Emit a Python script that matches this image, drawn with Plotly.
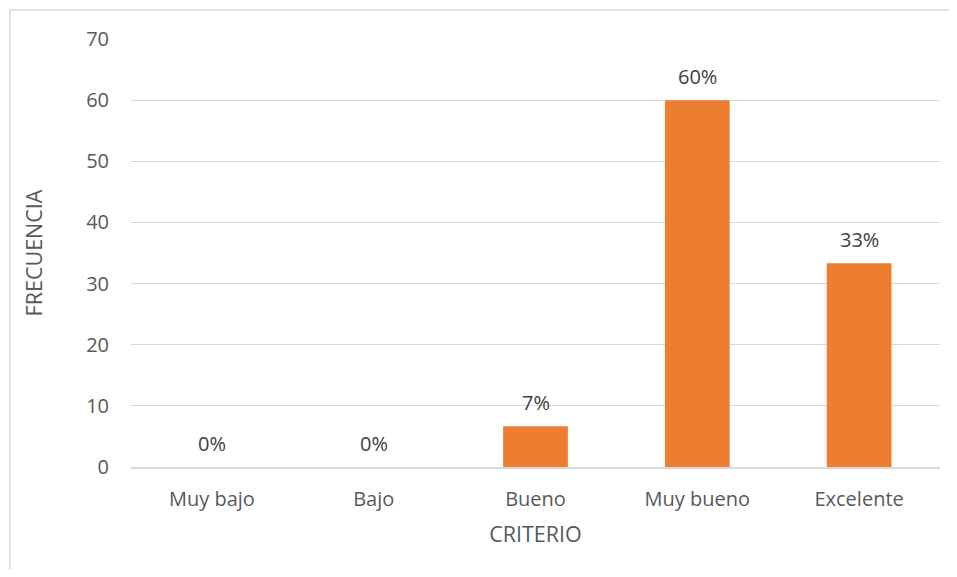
import plotly.graph_objects as go

categories = ["Muy bajo", "Bajo", "Bueno", "Muy bueno", "Excelente"]
values = [0, 0, 6.67, 60, 33.33]
labels = ["0%", "0%", "7%", "60%", "33%"]
y_ticks = [0, 10, 20, 30, 40, 50, 60, 70]

FONT = "Open Sans"
GREY = "#595959"
FS = 20

fig = go.Figure()
fig.add_trace(go.Bar(x=categories, y=values, marker=dict(color="#ED7D31", line=dict(width=0)),
                     width=0.4, hoverinfo="x+y"))

for c, v, t in zip(categories, values, labels):
    fig.add_annotation(x=c, y=v, text=t, showarrow=False, yanchor="bottom", yshift=8,
                       font=dict(family=FONT, size=FS, color="#404040"))

fig.add_shape(type="rect", xref="paper", yref="paper", x0=-0.1496, y0=-0.6, x1=1.2, y1=1.0678,
              line=dict(color="#d9d9d9", width=1.5), fillcolor="rgba(0,0,0,0)", layer="below")

fig.update_layout(
    width=941, height=561,
    margin=dict(l=123, r=9, t=31, b=102),
    plot_bgcolor="white", paper_bgcolor="white",
    showlegend=False,
    font=dict(family=FONT, color=GREY, size=FS),
    xaxis=dict(title=dict(text="CRITERIO", font=dict(size=21.5, color=GREY), standoff=16),
               tickfont=dict(size=FS, color=GREY), showgrid=False, showline=True,
               linecolor="#d9d9d9", linewidth=1.5, ticks="", ticklabelstandoff=13),
    yaxis=dict(title=dict(text="FRECUENCIA", font=dict(size=21.5, color=GREY), standoff=37),
               range=[0, 70], tickvals=y_ticks, tickfont=dict(size=FS, color=GREY),
               showgrid=True, gridcolor="#d9d9d9", gridwidth=1, zeroline=False,
               showline=False, ticks="", ticklabelstandoff=21),
)

fig.write_html("out.html")
